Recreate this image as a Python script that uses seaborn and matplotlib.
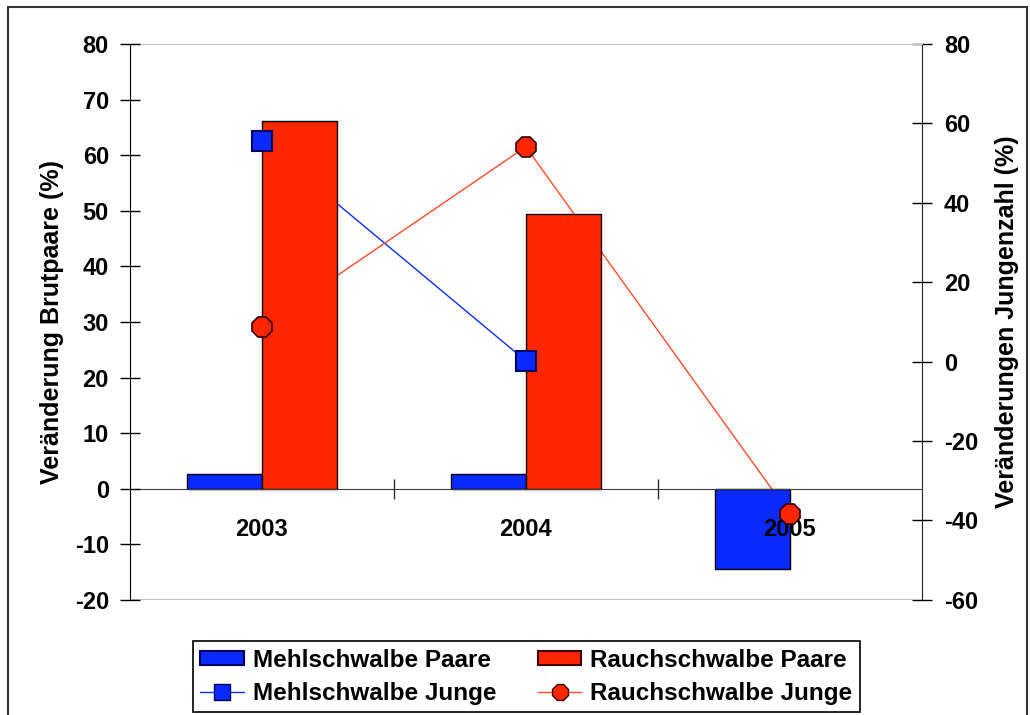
#! /usr/bin/env python3

import numpy as np
import pandas as pd
import matplotlib
matplotlib.use("Agg")
import matplotlib.pyplot as plt
from matplotlib.patches import Patch, Rectangle
from matplotlib.lines import Line2D
import seaborn as sns

# data
years = ["2003", "2004", "2005"]
mehl_paare = [2.7, 2.7, -14.5]
rauch_paare = [66.2, 49.5, np.nan]
mehl_junge = [55.6, 0.2, np.nan]
rauch_junge = [8.7, 54.1, -38.4]

BLUE = "#0A2AFF"
RED = "#FF2600"
RED_LINE = "#FF4A2A"

sns.set_style("white")
plt.rcParams["font.family"] = ["Liberation Sans", "DejaVu Sans"]
plt.rcParams["font.weight"] = "bold"
plt.rcParams["axes.unicode_minus"] = False
plt.rcParams["text.color"] = "black"
plt.rcParams["axes.labelcolor"] = "black"
plt.rcParams["xtick.color"] = "black"
plt.rcParams["ytick.color"] = "black"

df = pd.DataFrame({
    "year": years * 2,
    "value": mehl_paare + rauch_paare,
    "art": ["Mehlschwalbe Paare"] * 3 + ["Rauchschwalbe Paare"] * 3,
})

fig = plt.figure(figsize=(10.3, 7.15), dpi=100, facecolor="white")
# main axes: bars on the left scale
ax = fig.add_axes([0.126, 0.161, 0.769, 0.7775])
# right scale: lines (behind the bars) and markers (on top)
ax_line = ax.twinx()
ax_mark = ax.twinx()

ax_line.set_zorder(0)
ax.set_zorder(1)
ax.patch.set_visible(False)
ax.set_axisbelow(False)
ax_mark.set_zorder(2)

sns.barplot(data=df, x="year", y="value", hue="art", palette=[BLUE, RED],
            saturation=1, width=0.57, edgecolor="black", linewidth=1,
            ax=ax, legend=False)

x_pos = np.arange(len(years))
ax_line.plot(x_pos, mehl_junge, color=BLUE, lw=1)
ax_line.plot(x_pos, rauch_junge, color=RED_LINE, lw=1)
ax_mark.plot(x_pos, mehl_junge, ls="none", marker="s", ms=14,
             mfc=BLUE, mec="#000060", mew=1.5)
ax_mark.plot(x_pos, rauch_junge, ls="none", marker="8", ms=15,
             mfc=RED, mec="#300000", mew=1.2)

# scales
ax.set_xlim(-0.5, 2.5)
ax.set_ylim(-20, 80)
ax.set_yticks(np.arange(-20, 81, 10))
ax_line.set_ylim(-60, 80)
ax_line.set_yticks(np.arange(-60, 81, 20))
ax_mark.set_ylim(-60, 80)

# left axis
ax.tick_params(axis="y", direction="inout", length=14, width=1, pad=8,
               labelsize=17, colors="black", left=True)
ax.set_ylabel("Veränderung Brutpaare (%)", fontsize=18, fontweight="bold", labelpad=8)

# right axis
ax_line.tick_params(axis="y", direction="inout", length=14, width=1, pad=9,
                    labelsize=17, colors="black", right=True)
ax_line.set_ylabel("Veränderungen Jungenzahl (%)", fontsize=18, fontweight="bold",
                   labelpad=12)
for s in ax_line.spines.values():
    s.set_visible(False)

ax_mark.set_yticks([])
for s in ax_mark.spines.values():
    s.set_visible(False)

# x axis on the zero line
ax.set_xlabel("")
ax.set_xticks(x_pos)
ax.set_xticklabels(years)
ax.set_xticks(x_pos[:-1] + 0.5, minor=True)
ax.tick_params(axis="x", which="major", length=0, pad=21, labelsize=17)
ax.tick_params(axis="x", which="minor", direction="inout", length=14, width=1,
               color="#303030", bottom=True)
ax.spines["bottom"].set_position(("data", 0))
ax.spines["bottom"].set_color("#404040")
ax.spines["left"].set_color("black")
ax.spines["right"].set_visible(True)
ax.spines["right"].set_color("#222222")
ax.spines["top"].set_color("#c0c0c0")
ax.axhline(ax.get_ylim()[0], color="#c0c0c0", lw=1.5, zorder=0)

# legend (matplotlib fills column-wise)
handles = [
    Patch(facecolor=BLUE, edgecolor="#000060", lw=1.5),
    Line2D([], [], color=BLUE, lw=1, marker="s", ms=11, mfc=BLUE, mec="#000060"),
    Patch(facecolor=RED, edgecolor="#400000", lw=1.5),
    Line2D([], [], color=RED_LINE, lw=1, marker="8", ms=12, mfc=RED, mec="#300000"),
]
labels = ["Mehlschwalbe Paare", "Mehlschwalbe Junge",
          "Rauchschwalbe Paare", "Rauchschwalbe Junge"]
leg = fig.legend(handles, labels, ncol=2, loc="lower center",
                 bbox_to_anchor=(0.511, 0.004), fancybox=False, framealpha=1,
                 edgecolor="black", prop={"size": 17.5, "weight": "bold"},
                 handlelength=1.8, handleheight=0.55, columnspacing=1.7,
                 labelspacing=0.42, borderpad=0.3, handletextpad=0.37,
                 borderaxespad=0)
leg.get_frame().set_linewidth(1.2)

# outer frame of the figure
fig.patches.append(Rectangle((0.008, -0.05), 0.989, 1.04, transform=fig.transFigure,
                             fill=False, edgecolor="#333333", lw=1.5))

fig.savefig("out.png", dpi=100)
